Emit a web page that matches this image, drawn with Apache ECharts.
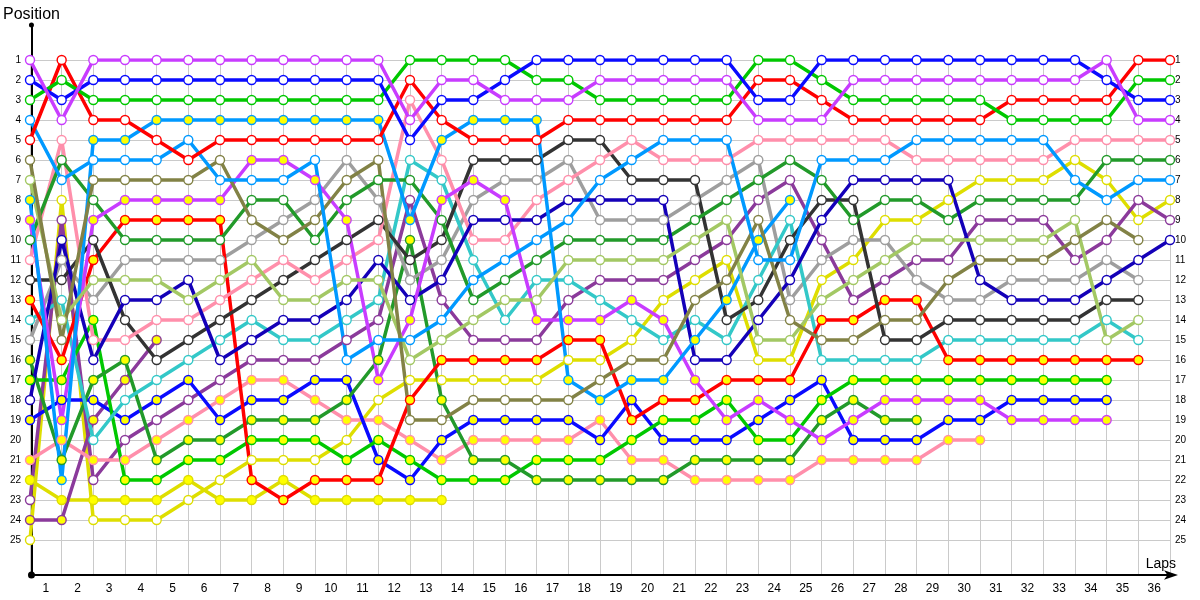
<!DOCTYPE html>
<html>
<head>
<meta charset="utf-8">
<script src="https://cdn.jsdelivr.net/npm/echarts@6/dist/echarts.min.js"></script>
<style>
html,body{margin:0;padding:0;background:#fff;}
#chart{width:1200px;height:600px;}
</style>
</head>
<body>
<div id="chart"></div>
<script>
// ---- Data: race position of each car at the end of each lap (lap 0 = grid) ----
const lapLabels = ['1','2','3','4','5','6','7','8','9','10','11','12','13','14','15','16','17','18',
  '19','20','21','22','23','24','25','26','27','28','29','30','31','32','33','34','35','36'];

const violetA = [1,4,1,1,1,1,1,1,1,1,1,1,4,2,2,3,3,3,2,2,2,2,2,4,4,4,2,2,2,2,2,2,2,2,1,4,4];
const blueA   = [2,3,2,2,2,2,2,2,2,2,2,2,5,3,3,2,1,1,1,1,1,1,1,3,3,1,1,1,1,1,1,1,1,1,2,3,3];
const greenA  = [3,2,3,3,3,3,3,3,3,3,3,3,1,1,1,1,2,2,3,3,3,3,3,1,1,2,3,3,3,3,3,4,4,4,4,2,2];
const redA    = [5,1,4,4,5,6,5,5,5,5,5,5,2,4,5,5,5,4,4,4,4,4,4,2,2,3,4,4,4,4,4,3,3,3,3,1,1];
const skyA    = [4,7,6,6,6,5,7,7,7,6,16,15,15,14,12,11,10,9,7,6,5,5,5,11,11,6,6,6,5,5,5,5,5,7,8,7,7];
const oliveA  = [6,15,7,7,7,7,6,9,10,9,7,6,19,19,18,18,18,18,17,16,16,13,12,9,14,15,15,14,14,12,11,11,11,10,9,10,null];
const lgreenA = [7,14,12,12,12,13,12,11,13,13,12,12,16,15,14,13,13,11,11,11,11,10,9,15,15,13,12,11,10,10,10,10,10,9,15,14,null];
const skyB    = [8,22,5,5,4,4,4,4,4,4,4,4,9,5,4,4,4,17,18,17,17,15,13,10,8,null,null,null,null,null,null,null,null,null,null,null,null];
const violetB = [9,19,9,8,8,8,8,6,6,7,9,17,14,8,7,8,14,14,14,13,14,17,19,18,19,20,19,18,18,18,18,19,19,19,19,null,null];
const dgreenA = [10,6,8,10,10,10,10,8,8,10,8,7,7,9,13,12,11,10,10,10,10,9,8,7,6,7,9,8,8,9,8,8,8,8,6,6,6];
const pinkA   = [11,5,15,15,14,14,13,12,11,12,11,10,3,6,10,10,8,7,6,5,6,6,6,5,5,5,5,5,6,6,6,6,6,5,5,5,5];
const dgrayA  = [12,12,10,14,16,15,14,13,12,11,10,9,11,10,6,6,6,5,5,7,7,7,14,13,10,8,8,15,15,14,14,14,14,14,13,13,null];
const redB    = [13,16,11,9,9,9,9,22,23,22,22,22,18,16,16,16,16,15,15,19,18,18,17,17,17,14,14,13,13,16,16,16,16,16,16,16,null];
const cyanA   = [14,13,20,18,17,16,15,14,15,15,14,13,6,7,11,14,12,12,13,14,15,14,15,12,9,16,16,16,16,15,15,15,15,15,14,15,null];
const grayA   = [15,11,13,11,11,11,11,10,9,8,6,8,12,11,8,7,7,6,9,9,9,8,7,6,13,11,10,10,12,13,13,12,12,12,11,12,null];
const dgreenB = [16,21,17,16,21,20,20,19,19,19,18,16,10,18,21,21,22,22,22,22,22,21,21,21,21,19,18,19,19,null,null,null,null,null,null,null,null];
const greenB  = [17,17,14,22,22,21,21,20,20,20,21,20,21,22,22,22,21,21,21,20,19,19,18,20,20,18,17,17,17,17,17,17,17,17,17,null,null];
const indigoA = [18,10,16,13,13,12,16,15,14,14,13,11,13,12,9,9,9,8,8,8,8,16,16,14,12,9,7,7,7,7,12,13,13,13,12,11,10];
const blueB   = [19,18,18,19,18,17,19,18,18,17,17,21,22,20,19,19,19,19,20,18,20,20,20,19,18,17,20,20,20,19,19,18,18,18,18,null,null];
const pinkB   = [21,20,21,21,20,19,18,17,17,18,19,19,20,21,20,20,20,20,19,21,21,22,22,22,22,21,21,21,21,20,20,null,null,null,null,null,null];
const yellowB = [22,23,23,23,23,22,23,23,22,23,23,23,23,23,null,null,null,null,null,null,null,null,null,null,null,null,null,null,null,null,null,null,null,null,null,null,null];
const purpleA = [23,9,22,20,19,18,17,16,16,16,15,14,8,13,15,15,15,13,12,12,12,11,10,8,7,10,13,12,11,11,9,9,9,11,10,8,9];
const purpleB = [24,24,19,17,15,null,null,null,null,null,null,null,null,null,null,null,null,null,null,null,null,null,null,null,null,null,null,null,null,null,null,null,null,null,null,null,null];
const yellowA = [25,8,24,24,24,23,22,21,21,21,20,18,17,17,17,17,17,16,16,15,13,12,11,16,16,12,11,9,9,8,7,7,7,6,7,9,8];

// ---- Styles (kept apart from the data) ----
const WHITE = '#ffffff', YEL = '#ffff00';
const cars = [
  {name:'Car 25', data:yellowA, color:'#dede00', fill:WHITE},
  {name:'Car 22', data:yellowB, color:'#dede00', fill:YEL},
  {name:'Car 24', data:purpleB, color:'#8b3a9b', fill:YEL},
  {name:'Car 23', data:purpleA, color:'#8b3a9b', fill:WHITE},
  {name:'Car 21', data:pinkB,   color:'#ff8fab', fill:YEL},
  {name:'Car 19', data:blueB,   color:'#0a0aff', fill:YEL},
  {name:'Car 17', data:greenB,  color:'#00c800', fill:YEL},
  {name:'Car 16', data:dgreenB, color:'#229a2a', fill:YEL},
  {name:'Car 15', data:grayA,   color:'#9e9e9e', fill:WHITE},
  {name:'Car 14', data:cyanA,   color:'#33c8c8', fill:WHITE},
  {name:'Car 13', data:redB,    color:'#ff0000', fill:YEL},
  {name:'Car 12', data:dgrayA,  color:'#333333', fill:WHITE},
  {name:'Car 11', data:pinkA,   color:'#ff8fab', fill:WHITE},
  {name:'Car 10', data:dgreenA, color:'#229a2a', fill:WHITE},
  {name:'Car 18', data:indigoA, color:'#1400b8', fill:WHITE},
  {name:'Car 9',  data:violetB, color:'#c83cff', fill:YEL},
  {name:'Car 8',  data:skyB,    color:'#0099ff', fill:YEL},
  {name:'Car 7',  data:lgreenA, color:'#a3c864', fill:WHITE},
  {name:'Car 6',  data:oliveA,  color:'#828246', fill:WHITE},
  {name:'Car 4',  data:skyA,    color:'#0099ff', fill:WHITE},
  {name:'Car 5',  data:redA,    color:'#ff0000', fill:WHITE},
  {name:'Car 3',  data:greenA,  color:'#00c800', fill:WHITE},
  {name:'Car 2',  data:blueA,   color:'#0a0aff', fill:WHITE},
  {name:'Car 1',  data:violetA, color:'#c83cff', fill:WHITE}
];

const FONT = '"Liberation Sans", Arial, sans-serif';
const GRIDC = '#cacaca';

const series = cars.map(c => ({
  name: c.name,
  type: 'line',
  xAxisIndex: 0,
  yAxisIndex: 0,
  data: c.data.map((p, lap) => [lap, p]).filter(d => d[1] !== null),
  symbol: 'circle',
  symbolSize: 9,
  showAllSymbol: true,
  lineStyle: {color: c.color, width: 3.5},
  itemStyle: {color: c.fill, borderColor: c.color, borderWidth: 1.4},
  emphasis: {disabled: true},
  animation: false
}));

const chart = echarts.init(document.getElementById('chart'));
chart.setOption({
  animation: false,
  backgroundColor: '#ffffff',
  textStyle: {fontFamily: FONT},
  grid: [
    {left: 30, right: 30, top: 60, bottom: 25},
    {left: 30, right: 30, top: 25, bottom: 25},
    {left: 30, right: 30, top: 60, bottom: 60}
  ],
  xAxis: [
    {gridIndex: 0, type: 'value', min: 0, max: 36, interval: 1,
     axisLine: {show: false}, axisTick: {show: false}, axisLabel: {show: false},
     splitLine: {show: true, lineStyle: {color: GRIDC, width: 1}}},
    {gridIndex: 1, type: 'value', min: 0, max: 36,
     axisLine: {show: true, onZero: false, lineStyle: {color: '#000', width: 2},
       symbol: ['circle', 'arrow'], symbolSize: [7, 14], symbolOffset: [0, 8]},
     axisTick: {show: false}, axisLabel: {show: false}, splitLine: {show: false},
     name: 'Laps', nameLocation: 'end', nameGap: 6,
     nameTextStyle: {fontSize: 14, color: '#000', fontFamily: FONT, align: 'right', verticalAlign: 'bottom', padding: [0, 0, 4, 0]}},
    {gridIndex: 2, type: 'value', min: 0, max: 36, show: false},
    {gridIndex: 0, type: 'category', data: lapLabels, boundaryGap: true, position: 'bottom',
     axisLine: {show: false}, axisTick: {show: false}, splitLine: {show: false},
     axisLabel: {fontSize: 12, color: '#000', margin: 8, fontFamily: FONT, interval: 0}}
  ],
  yAxis: [
    {gridIndex: 0, type: 'value', inverse: true, min: 1, max: 26.75, show: false},
    {gridIndex: 1, type: 'value', min: 0, max: 1,
     axisLine: {show: true, onZero: false, lineStyle: {color: '#000', width: 2},
       symbol: ['circle', 'circle'], symbolSize: [5, 5]},
     axisTick: {show: false}, axisLabel: {show: false}, splitLine: {show: false},
     name: 'Position', nameLocation: 'end', nameGap: 10,
     nameTextStyle: {fontSize: 16, color: '#000', fontFamily: FONT, align: 'center', verticalAlign: 'middle'}},
    {gridIndex: 2, type: 'value', inverse: true, min: 1, max: 25, interval: 1, position: 'left',
     axisLine: {show: false}, axisTick: {show: false},
     axisLabel: {fontSize: 10, color: '#000', margin: 9, fontFamily: FONT},
     splitLine: {show: true, lineStyle: {color: GRIDC, width: 1}}},
    {gridIndex: 2, type: 'value', inverse: true, min: 1, max: 25, interval: 1, position: 'right',
     axisLine: {show: false}, axisTick: {show: false},
     axisLabel: {fontSize: 10, color: '#000', margin: 5, fontFamily: FONT},
     splitLine: {show: false}}
  ],
  series: series
});
</script>
</body>
</html>
